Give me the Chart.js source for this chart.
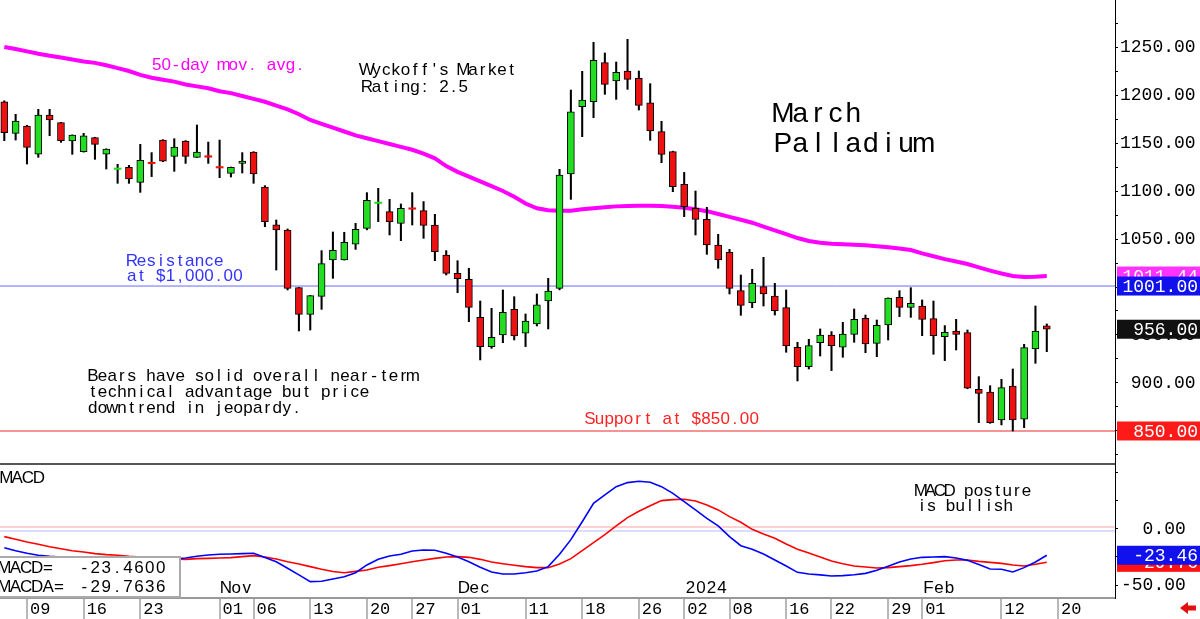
<!DOCTYPE html>
<html>
<head>
<meta charset="utf-8">
<script src="https://cdn.jsdelivr.net/npm/chart.js@4.4.1/dist/chart.umd.min.js"></script>
<style>
html,body{margin:0;padding:0;background:#fff}
#wrap{position:relative;width:1200px;height:619px}
</style>
</head>
<body>
<div id="wrap"><canvas id="myChart"></canvas></div>
<script>
// March palladium, daily candles Oct 5 2023 .. Feb 16 2024 (x = trading day index)
const openP = [1193,1160.1,1167.7,1138.5,1179.2,1171.2,1152.1,1141,1155.6,1138.5,
  1122.5,1124.7,1109,1130,1153.1,1136.1,1152.1,1135.1,1136.8,1125.5,
  1118.4,1128.8,1140.6,1104.2,1064.9,1059.4,999.3,971.5,990.3,1028.1,
  1028.1,1044.5,1061,1087,1078.5,1066.3,1082.5,1079.5,1064.6,1033.3,
  1014.2,1008,968.4,937.9,950,976.8,951.8,961.5,985.4,998.6,
  1117.7,1187.8,1193.1,1233.7,1214.6,1225,1217.4,1192,1161.8,1141,
  1107,1082,1070.5,1043.8,1036.1,996.2,983.7,1000.4,990.6,978.5,
  937.2,917,942,950,937.2,950.7,967.4,941.3,960.4,989.2,
  978.8,980.2,967,948.3,954.2,952.4,893.4,890.6,861.5,896.9,
  862.2,935.4,959.5]
const highP = [1194,1179.9,1168.5,1185.1,1185.1,1171.5,1158.5,1160.1,1156,1144,
  1127.8,1126.7,1148.6,1140,1153.5,1154.5,1152.5,1168.8,1151,1153.1,
  1125,1140,1141,1105.6,1069.8,1060.5,999.5,991.2,1037.9,1057.3,
  1057,1066.3,1098.3,1102.8,1091.3,1086.5,1098.3,1089,1075.7,1037.9,
  1027.4,1019.5,985.4,977.8,996.9,989.9,971.9,992.7,1009,1122.6,
  1205.2,1224.7,1254.9,1243.8,1234.4,1258,1225,1211.8,1172.6,1141.5,
  1119.4,1100,1083,1054.9,1039.2,1012.5,1018.4,1030.9,1003.8,996.9,
  942.4,945.5,956.3,953.5,963.2,977.1,970.8,965.6,988.7,996.2,
  999.3,986.5,985.4,959.8,966.3,955.2,906.6,897.2,903.8,914.6,
  940.3,980.2,961.5]
const lowP = [1152.4,1153.1,1128.1,1135.1,1157.6,1150.7,1138.2,1140.5,1133,1122.9,
  1108,1108,1098.6,1115,1130.5,1120.5,1128.8,1135,1128.8,1113.9,
  1114.6,1118.8,1108,1062.8,1017.7,996.9,954.2,955.2,976.7,1009,
  1028,1039.2,1059.5,1068.1,1054.2,1048.3,1064.6,1050.7,1027.4,1012.5,
  994.1,963.9,924,936.1,942,944.8,937.9,959.4,956.3,997,
  1091.3,1156.6,1176.4,1200.7,1195.5,1205.9,1184.4,1152.8,1129.5,1099.3,
  1073.3,1054.2,1034,1019.5,992.7,970.5,978.5,980.2,970.8,932,
  902.1,914.6,928.1,912.9,926.8,942.4,931.6,927.4,944.8,969.1,
  968.4,949.3,929.9,923.3,934.4,894,858.7,858,856.3,850,
  853.5,920.5,932.6]
const closeP = [1160.7,1172.9,1145.5,1179.2,1174,1152.4,1158.3,1157.6,1148.6,1143.7,
  1124,1112.5,1132,1128.5,1131.2,1145.8,1136.1,1140.6,1135.2,1124,
  1124.7,1131.2,1117.7,1068.1,1059.4,998.6,971.5,991,1024.3,1038.2,
  1046.5,1060.1,1090.3,1088.5,1068.1,1082,1081,1064.2,1036.8,1014.2,
  1008.7,978.8,937.9,947.6,973.6,949,964.6,981.3,995.8,1116.7,
  1182.6,1194.8,1236.1,1211.1,1223.6,1216.3,1189.2,1162.5,1138.2,1104.5,
  1083.7,1070.5,1043.8,1028.1,998.6,980.9,1003.8,992.7,975.4,938.5,
  917,938.9,950,938.9,951,966.3,940.6,960.1,988.5,978.8,
  983,966.3,949.3,952.8,950.7,894.5,889.2,858.7,895.1,861.5,
  936.8,954.2,956]
const ma50 = [1250,1248,1245.5,1243,1241,1239,1237,1235,1233.5,1231,
  1228,1225,1221,1218,1216,1214,1211,1209,1207,1204,
  1202,1199,1196,1193,1189,1185,1180,1174,1170,1166,
  1162,1158,1155,1152,1149,1146,1143,1139,1134,1126,
  1120,1115,1110,1105,1100,1094,1087,1082,1080,1079.5,
  1079.5,1081,1082,1083,1084,1084.5,1084.7,1084.7,1084.5,1083.5,
  1082.5,1081,1079,1076,1073,1070,1067,1063,1059,1055,
  1051,1048,1046,1045,1044.5,1044,1043.5,1042.5,1041.5,1040,
  1038.5,1035,1032,1029,1026.5,1024,1020.5,1017,1014,1011.5,
  1010.5,1010.8,1011.44]
const macdLine = [-16.7,-19.4,-21.7,-23.5,-24.4,-25,-25.5,-26,-26.5,-27,
  -27.3,-27.5,-27.5,-27.3,-27,-26.8,-25.9,-24.4,-23.2,-22.6,
  -22.3,-22,-21.7,-25.4,-29.2,-35.1,-41,-47,-46.7,-44.6,
  -42.6,-39,-32.1,-27.1,-24.1,-22.6,-19.6,-18.75,-19,-21.7,
  -25,-29.2,-34.2,-38.4,-40.2,-40.2,-39,-37.5,-33.6,-22.6,
  -9.5,6.5,22.9,30.4,37.8,41.4,42.6,41.7,37.8,31.8,
  24.4,17,9.5,2.7,-6.8,-14.9,-18.1,-22.3,-27.7,-33,
  -38.7,-40.2,-41,-41.9,-41.6,-40.8,-39.6,-36.9,-33.3,-29.5,
  -26.8,-25.3,-25,-24.7,-25.9,-28,-31.8,-35.7,-36,-38.4,
  -34.5,-29.5,-23.46]
const macdAvg = [-6.8,-9.2,-11.6,-13.7,-15.8,-17.6,-19.4,-20.5,-22,-22.9,
  -23.5,-24.4,-25,-25.6,-26.2,-26.8,-27.1,-26.5,-26.2,-25.9,
  -25.6,-24.7,-23.8,-25,-26.8,-29.2,-31.25,-33.6,-36,-38,
  -39,-37.8,-36.6,-34.2,-32.7,-31,-29.2,-27.7,-26.2,-25,
  -24.7,-25.3,-27.1,-29.5,-31,-32.4,-33.6,-34.5,-34.5,-31.25,
  -26.5,-19.4,-12.2,-5.1,2.7,10.1,15.8,20.8,25.3,26.2,
  26.5,25,21.4,17,11,6,-0.3,-4.5,-8.3,-13.4,
  -18.1,-21.4,-25,-28.6,-31,-33,-33.9,-34.8,-34.5,-33.6,
  -32.7,-31.5,-30,-28.3,-27.7,-27.7,-28.9,-29.8,-30.7,-32.1,
  -33,-31.5,-29.76]

const tickPos = [2,7,12,19,22,27,32,36,40,46,51,56,60,64,69,73,78,81,88,93]
const tickText = ['09','16','23','01','06','13','20','27','01','11','18','26','02','08','16','22','29','01','12','20']
const monthPos = [19,40,60,81]
const monthText = ['Nov','Dec','2024','Feb']
const priceTicks = [850,900,950,1000,1050,1100,1150,1200,1250]
const macdTicks = [-50,0]

const resistance = 1001
const support = 850
const lastMA = 1011.44
const lastClose = 956
const lastMacd = -23.4600
const lastMacda = -29.7636

const X_MIN = -0.38, X_MAX = 98.02
const GREEN = '#22dd22', RED = '#ee1111'
const MONO = '"Liberation Mono", monospace'
const SANS = '"Liberation Sans", Arial, sans-serif'

Chart.defaults.font.family = MONO
Chart.defaults.color = '#000'

const days = openP.map((_, i) => i)

// letters set on a fixed grid, the way the original terminal font looks
function gridText(ctx, str, x, y, adv, size, color){
    ctx.save()
    ctx.font = `${size}px ${SANS}`
    ctx.fillStyle = color
    ctx.textAlign = 'center'
    ctx.textBaseline = 'alphabetic'
    for(let i = 0; i < str.length; i++){
        ctx.fillText(str[i], x + i*adv + adv/2 - 1, y)
    }
    ctx.restore()
}

function valueBox(ctx, chart, scale, v, text, bg){
    const y = scale.getPixelForValue(v)
    const left = chart.chartArea.right + 2
    ctx.fillStyle = bg
    ctx.fillRect(left, y - 9.5, chart.width - left, 19)
    ctx.fillStyle = '#fff'
    ctx.font = `18px ${MONO}`
    ctx.textAlign = 'right'
    ctx.textBaseline = 'middle'
    ctx.fillText(text, chart.width - 2, y + 1)
}

const decor = {
    id: 'decor',
    afterDraw(chart){
        const ctx = chart.ctx
        const area = chart.chartArea
        const xs = chart.scales.x, ys = chart.scales.y, ym = chart.scales.y2
        ctx.save()

        // panel divider
        ctx.strokeStyle = '#555'
        ctx.lineWidth = 2
        ctx.beginPath()
        ctx.moveTo(area.left, ym.top)
        ctx.lineTo(area.right, ym.top)
        ctx.stroke()

        // price panel notes
        gridText(ctx, '50-day mov. avg.', 153, 70, 9.55, 17, '#ff00ff')
        gridText(ctx, "Wyckoff's Market", 363, 75, 9.65, 17, '#000')
        gridText(ctx, 'Rating: 2.5', 363, 92, 9.65, 17, '#000')
        gridText(ctx, 'March', 775, 122, 17.6, 28, '#000')
        gridText(ctx, 'Palladium', 775, 152, 17.6, 28, '#000')
        gridText(ctx, 'Resistance', 128, 266, 9.65, 17, '#3333ff')
        gridText(ctx, 'at $1,000.00', 128, 281, 9.65, 17, '#3333ff')
        gridText(ctx, 'Bears have solid overall near-term', 89, 381, 9.7, 17, '#000')
        gridText(ctx, 'technical advantage but price', 89, 397, 9.7, 17, '#000')
        gridText(ctx, 'downtrend in jeopardy.', 89, 413, 9.7, 17, '#000')
        gridText(ctx, 'Support at $850.00', 586, 424, 9.67, 17, '#ff2222')

        // macd panel notes
        gridText(ctx, 'MACD', 2, 483, 10.8, 17, '#000')
        gridText(ctx, 'MACD posture', 917, 496, 9.6, 17, '#000')
        gridText(ctx, 'is bullish', 918, 511, 9.6, 17, '#000')
        monthPos.forEach((p, k) => {
            gridText(ctx, monthText[k], xs.getPixelForValue(p) + 2, 593, 10.5, 17, '#000')
        })

        // readout box bottom-left
        ctx.fillStyle = '#fff'
        ctx.fillRect(0, 557, 180, 40)
        ctx.strokeStyle = '#aaa'
        ctx.lineWidth = 2
        ctx.strokeRect(-1, 557, 181, 40)
        gridText(ctx, 'MACD=', 0, 573, 10.9, 17, '#000')
        gridText(ctx, lastMacd.toFixed(4), 80, 573, 10.9, 17, '#000')
        gridText(ctx, 'MACDA=', 0, 592, 10.9, 17, '#000')
        gridText(ctx, lastMacda.toFixed(4), 80, 592, 10.9, 17, '#000')

        // last-value boxes on the right axis
        valueBox(ctx, chart, ys, lastMA, lastMA.toFixed(2), '#ff33ff')
        valueBox(ctx, chart, ys, resistance, resistance.toFixed(2), '#1111ee')
        valueBox(ctx, chart, ys, lastClose, lastClose.toFixed(2), '#111')
        valueBox(ctx, chart, ys, support, support.toFixed(2), '#ff1a1a')
        valueBox(ctx, chart, ym, lastMacda, lastMacda.toFixed(2), '#ff1111')
        valueBox(ctx, chart, ym, lastMacd, lastMacd.toFixed(2), '#1111ee')

        // little red arrow bottom right
        ctx.fillStyle = '#e01010'
        ctx.beginPath()
        ctx.moveTo(1180, 608)
        ctx.lineTo(1188, 602)
        ctx.lineTo(1188, 605.5)
        ctx.lineTo(1196, 605.5)
        ctx.lineTo(1196, 610.5)
        ctx.lineTo(1188, 610.5)
        ctx.lineTo(1188, 614)
        ctx.closePath()
        ctx.fill()

        ctx.restore()
    }
}

function fitY(width){
    return scale => {
        scale.width = width
        scale.paddingTop = 0
        scale.paddingBottom = 0
    }
}

const ctx = document.getElementById('myChart')

new Chart(ctx, {
    type: 'bar',
    data: {
        datasets: [
            { // candle bodies
                type: 'bar',
                data: days.map(i => ({x: i, y: [openP[i], closeP[i]]})),
                yAxisID: 'y',
                barThickness: 7,
                grouped: false,
                backgroundColor: c => closeP[c.dataIndex] >= openP[c.dataIndex] ? GREEN : RED,
                borderColor: '#000',
                borderWidth: c => Math.abs(closeP[c.dataIndex] - openP[c.dataIndex]) < 2 ? 0 : 1,
                borderSkipped: false,
                order: 0
            },
            { // wicks
                type: 'bar',
                data: days.map(i => ({x: i, y: [lowP[i], highP[i]]})),
                yAxisID: 'y',
                barThickness: 1.4,
                grouped: false,
                backgroundColor: '#000',
                borderWidth: 0,
                order: 1
            },
            {
                type: 'line',
                data: days.map(i => ({x: i, y: ma50[i]})),
                yAxisID: 'y',
                borderColor: '#ff00ff',
                borderWidth: 4,
                pointRadius: 0,
                order: 3
            },
            {
                type: 'line',
                data: [{x: X_MIN, y: resistance}, {x: X_MAX, y: resistance}],
                yAxisID: 'y',
                borderColor: '#6a6aff',
                borderWidth: 1,
                pointRadius: 0,
                order: 2
            },
            {
                type: 'line',
                data: [{x: X_MIN, y: support}, {x: X_MAX, y: support}],
                yAxisID: 'y',
                borderColor: '#f07070',
                borderWidth: 1.5,
                pointRadius: 0,
                order: 2
            },
            { // zero guides of the two macd lines
                type: 'line',
                data: [{x: X_MIN, y: 1.8}, {x: X_MAX, y: 1.8}],
                yAxisID: 'y2',
                borderColor: '#ffd0d0',
                borderWidth: 2,
                pointRadius: 0,
                order: 6
            },
            {
                type: 'line',
                data: [{x: X_MIN, y: -1.8}, {x: X_MAX, y: -1.8}],
                yAxisID: 'y2',
                borderColor: '#d0d0ff',
                borderWidth: 1.5,
                pointRadius: 0,
                order: 6
            },
            {
                type: 'line',
                data: days.map(i => ({x: i, y: macdAvg[i]})),
                yAxisID: 'y2',
                borderColor: '#ff0000',
                borderWidth: 1.6,
                pointRadius: 0,
                order: 5
            },
            {
                type: 'line',
                data: days.map(i => ({x: i, y: macdLine[i]})),
                yAxisID: 'y2',
                borderColor: '#0000ff',
                borderWidth: 1.6,
                pointRadius: 0,
                order: 4
            }
        ]
    },
    options: {
        responsive: true,
        maintainAspectRatio: false,
        animation: false,
        devicePixelRatio: 1,
        layout: {padding: 0},
        plugins: {
            legend: {display: false},
            tooltip: {enabled: false}
        },
        scales: {
            x: {
                type: 'linear',
                min: X_MIN,
                max: X_MAX,
                offset: false,
                afterBuildTicks: s => { s.ticks = tickPos.map(v => ({value: v})) },
                afterFit: s => { s.height = 21; s.paddingLeft = 0; s.paddingRight = 0 },
                grid: {drawOnChartArea: false, offset: false, tickLength: 21, color: '#b8b8b8', lineWidth: 2},
                border: {color: '#999', width: 2},
                ticks: {
                    autoSkip: false,
                    maxRotation: 0,
                    align: 'start',
                    labelOffset: 3,
                    padding: -20,
                    font: {size: 17},
                    callback: v => {
                        const k = tickPos.indexOf(v)
                        return k >= 0 ? tickText[k] : ''
                    }
                }
            },
            y: {
                type: 'linear',
                position: 'right',
                stack: 'panes',
                stackWeight: 464,
                min: 815.6,
                max: 1299,
                afterBuildTicks: s => {
                    s.ticks = []
                    for(let v = 825; v <= 1275; v += 25) s.ticks.push({value: v})
                },
                afterFit: fitY(85),
                grid: {drawOnChartArea: false, tickLength: 3, color: '#000'},
                border: {color: '#000', dash: [1, 2]},
                ticks: {
                    autoSkip: false,
                    padding: 2,
                    font: {size: 18},
                    // monospace + left padding keeps the decimals lined up
                    callback: v => priceTicks.includes(v) ? v.toFixed(2).padStart(7, ' ') : ''
                }
            },
            y2: {
                type: 'linear',
                position: 'right',
                stack: 'panes',
                stackWeight: 134,
                min: -61.6,
                max: 58,
                afterBuildTicks: s => {
                    s.ticks = []
                    for(let v = -50; v <= 50; v += 25) s.ticks.push({value: v})
                },
                afterFit: fitY(85),
                grid: {drawOnChartArea: false, tickLength: 3, color: '#000'},
                border: {color: '#000', dash: [1, 2]},
                ticks: {
                    autoSkip: false,
                    padding: 3,
                    font: {size: 18},
                    callback: v => macdTicks.includes(v) ? v.toFixed(2).padStart(6, ' ') : ''
                }
            }
        }
    },
    plugins: [decor]
})
</script>
</body>
</html>
